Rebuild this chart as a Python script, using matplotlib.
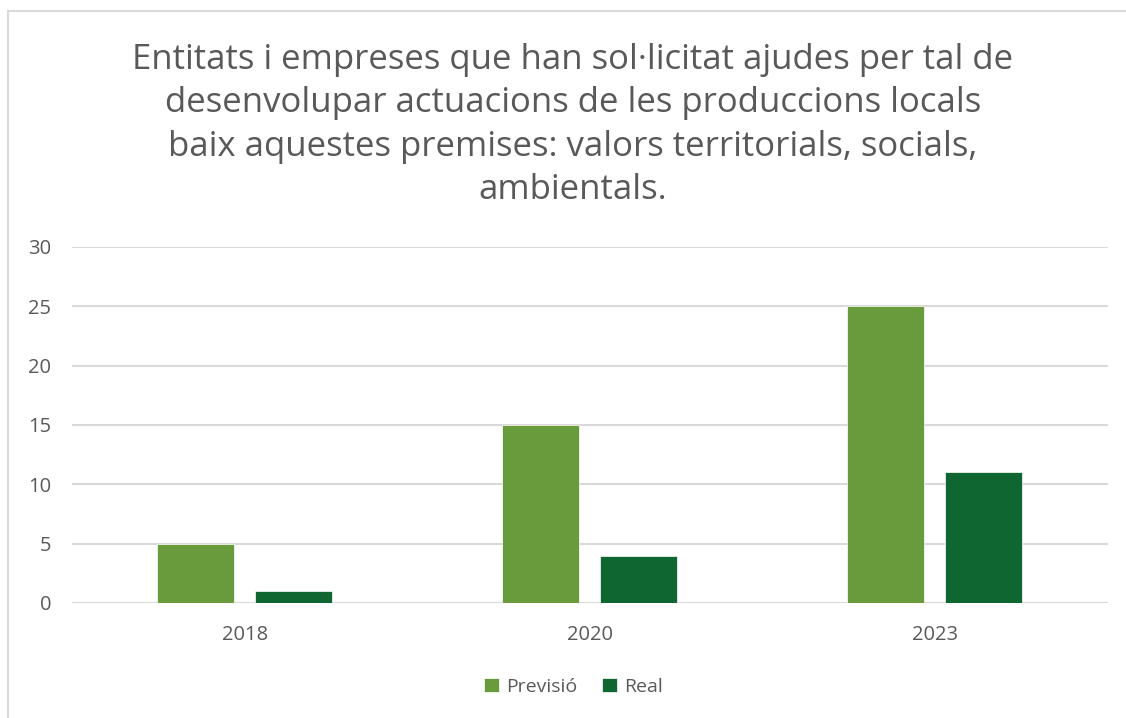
import matplotlib.pyplot as plt
import numpy as np
from matplotlib.patches import Rectangle

# ---- data ----
years = ['2018', '2020', '2023']
previsio = [5, 15, 25]
real = [1, 4, 11]

title = ("Entitats i empreses que han sol·licitat ajudes per tal de\n"
         "desenvolupar actuacions de les produccions locals\n"
         "baix aquestes premises: valors territorials, socials,\n"
         "ambientals.")

col_prev = '#699B3D'
col_real = '#0F6630'
txt = '#595959'

plt.rcParams['font.family'] = ['Open Sans', 'DejaVu Sans']

fig = plt.figure(figsize=(11.26, 7.18), dpi=100)
ax = fig.add_axes([72 / 1126, 1 - 603 / 718, 1036 / 1126, 356 / 718])

# chart frame (only left/top visible in the crop)
fig.patches.append(Rectangle((8 / 1126, -0.05), 1.2, 1 - 11 / 718 + 0.05,
                             transform=fig.transFigure, fill=False,
                             edgecolor='#d9d9d9', lw=1.5))

x = np.arange(len(years))
w = 0.223
ax.bar(x - 0.1435, previsio, w, color=col_prev, edgecolor='white', lw=0.5, label='Previsió', zorder=3)
ax.bar(x + 0.1405, real, w, color=col_real, edgecolor='white', lw=0.5, label='Real', zorder=3)

ax.set_xlim(-0.5, 2.5)
ax.set_ylim(0, 30)
ax.set_yticks(range(0, 31, 5))
ax.set_xticks(x)
ax.set_xticklabels(years)
ax.grid(axis='y', color='#d9d9d9', lw=1.5, zorder=0)
for s in ax.spines.values():
    s.set_visible(False)
ax.tick_params(length=0, labelsize=14.5, colors=txt)
ax.tick_params(axis='y', pad=15)
ax.tick_params(axis='x', pad=16)

fig.text(573 / 1126, 1 - 125 / 718, title, ha='center', va='center',
         fontsize=25, color=txt, linespacing=1.36)

ax.legend(loc='center', bbox_to_anchor=(0.484, -0.235), ncol=2, frameon=False,
          fontsize=14, labelcolor=txt, handlelength=0.75, handleheight=0.75,
          handletextpad=0.35, columnspacing=1.3)

fig.savefig('out.png', dpi=100)
